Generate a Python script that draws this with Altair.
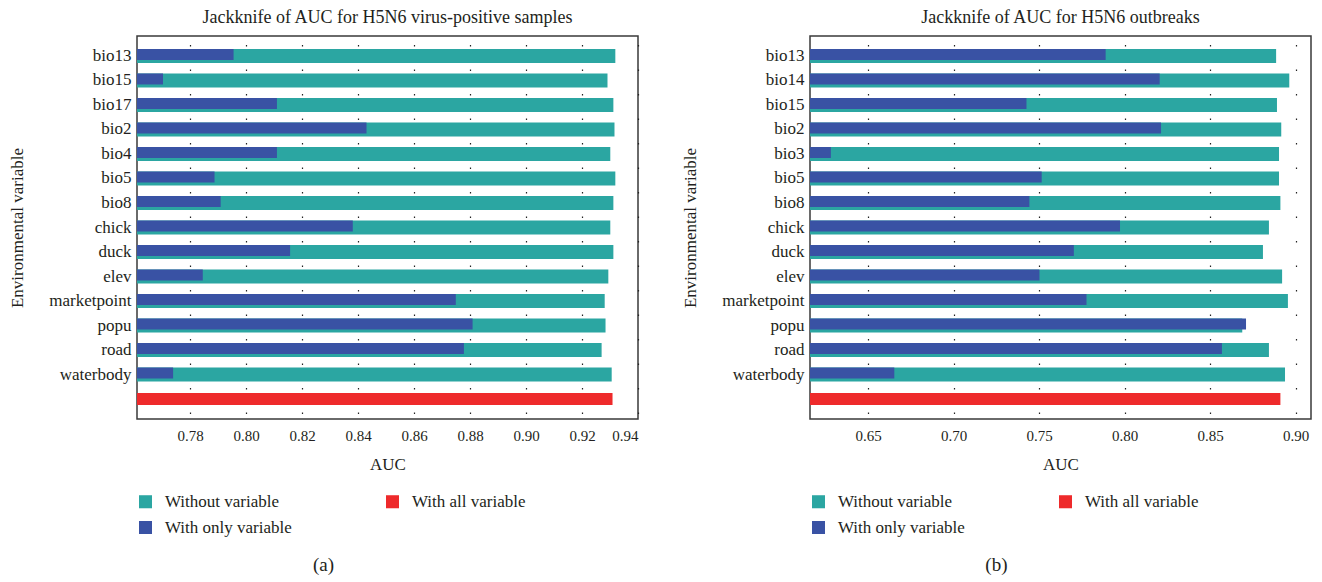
import altair as alt
import pandas as pd

# ---------- data ----------
vars_a = ["bio13", "bio15", "bio17", "bio2", "bio4", "bio5", "bio8", "chick",
          "duck", "elev", "marketpoint", "popu", "road", "waterbody"]
without_a = [0.9319, 0.9291, 0.9312, 0.9316, 0.9301, 0.9319, 0.9312, 0.9301,
             0.9312, 0.9294, 0.9281, 0.9284, 0.9270, 0.9306]
only_a = [0.7955, 0.7703, 0.8110, 0.8430, 0.8110, 0.7887, 0.7909, 0.8381,
          0.8157, 0.7845, 0.8749, 0.8809, 0.8778, 0.7739]
all_a = 0.9309
ticks_a = [0.78, 0.80, 0.82, 0.84, 0.86, 0.88, 0.90, 0.92, 0.94]
domain_a = [0.761, 0.94]

vars_b = ["bio13", "bio14", "bio15", "bio2", "bio3", "bio5", "bio8", "chick",
          "duck", "elev", "marketpoint", "popu", "road", "waterbody"]
without_b = [0.8886, 0.8963, 0.8891, 0.8916, 0.8903, 0.8903, 0.8911, 0.8844,
             0.8809, 0.8921, 0.8955, 0.8688, 0.8844, 0.8938]
only_b = [0.7889, 0.8205, 0.7426, 0.8213, 0.6282, 0.7515, 0.7443, 0.7973,
          0.7703, 0.7502, 0.7777, 0.8710, 0.8569, 0.6653]
all_b = 0.8911
ticks_b = [0.65, 0.70, 0.75, 0.80, 0.85, 0.90]
domain_b = [0.616, 0.909]

series_order = ["Without variable", "With only variable", "With all variable"]
series_colors = ["#2ba6a2", "#3952a4", "#ee2a2b"]

FONT = "Liberation Serif"
TXT = "#231f20"
W, H = 501, 383


def panel(vars_, without, only, allv, domain, ticks, title, caption):
    cats = vars_ + ["all"]
    df_wo = pd.DataFrame({"var": vars_, "auc": without, "series": "Without variable"})
    df_on = pd.DataFrame({"var": vars_, "auc": only, "series": "With only variable"})
    df_all = pd.DataFrame({"var": ["all"], "auc": [allv], "series": "With all variable"})

    y = alt.Y("var:N", sort=cats,
              scale=alt.Scale(domain=cats, paddingInner=0.43, paddingOuter=0.53),
              axis=alt.Axis(title="Environmental variable", ticks=False, domain=False,
                            labelExpr="datum.value == 'all' ? '' : datum.value",
                            labelFontSize=17, labelPadding=6, labelFont=FONT,
                            labelColor=TXT, titleFont=FONT, titleFontSize=17,
                            titleFontWeight="normal", titleColor=TXT, titlePadding=22))
    x = alt.X("auc:Q",
              scale=alt.Scale(domain=domain, zero=False, nice=False),
              axis=alt.Axis(title="AUC", values=ticks, format=".2f", ticks=False,
                            domain=False, grid=True, gridColor="#222", gridWidth=1.2,
                            gridDash=[1.5, 23], gridDashOffset=19,
                            labelFontSize=15, labelFont=FONT, labelColor=TXT,
                            labelPadding=9, titleFont=FONT, titleFontSize=17,
                            titleFontWeight="normal", titleColor=TXT, titlePadding=13))
    color = alt.Color("series:N",
                      scale=alt.Scale(domain=series_order, range=series_colors),
                      legend=alt.Legend(title=None, orient="none", legendX=0, legendY=457,
                                        values=series_order,
                                        columns=2, columnPadding=92, rowPadding=8,
                                        symbolType="square", symbolSize=170,
                                        symbolStrokeWidth=0, labelFont=FONT,
                                        labelFontSize=17, labelColor=TXT,
                                        labelLimit=300, labelOffset=11))
    x2 = alt.datum(domain[0])

    teal = alt.Chart(df_wo).mark_bar(size=14, clip=True).encode(x=x, x2=x2, y=y, color=color)
    blue = alt.Chart(df_on).mark_bar(size=11, yOffset=-1.5, clip=True).encode(x=x, x2=x2, y=y, color=color)
    red = alt.Chart(df_all).mark_bar(size=12, clip=True).encode(x=x, x2=x2, y=y, color=color)

    layer = alt.layer(teal, blue, red).properties(
        width=W, height=H,
        title=alt.TitleParams(title, font=FONT, fontSize=18, fontWeight="normal",
                              color=TXT, offset=9, frame="group", anchor="middle"))
    return alt.vconcat(layer, title=alt.TitleParams(caption, orient="bottom", font=FONT,
                                                    fontSize=19, fontWeight="normal",
                                                    color=TXT, offset=20, anchor="middle"))


left = panel(vars_a, without_a, only_a, all_a, domain_a, ticks_a,
             "Jackknife of AUC for H5N6 virus-positive samples", "(a)")
right = panel(vars_b, without_b, only_b, all_b, domain_b, ticks_b,
              "Jackknife of AUC for H5N6 outbreaks", "(b)")

chart = alt.hconcat(left, right, spacing=42).resolve_scale(
    x="independent", y="independent", color="independent"
).resolve_legend(color="independent").configure(
    padding=0, background="white"
).configure_view(stroke="#3a3a3a", strokeWidth=1.5)

chart.save("out.html", embed_options={"renderer": "svg", "actions": False})
